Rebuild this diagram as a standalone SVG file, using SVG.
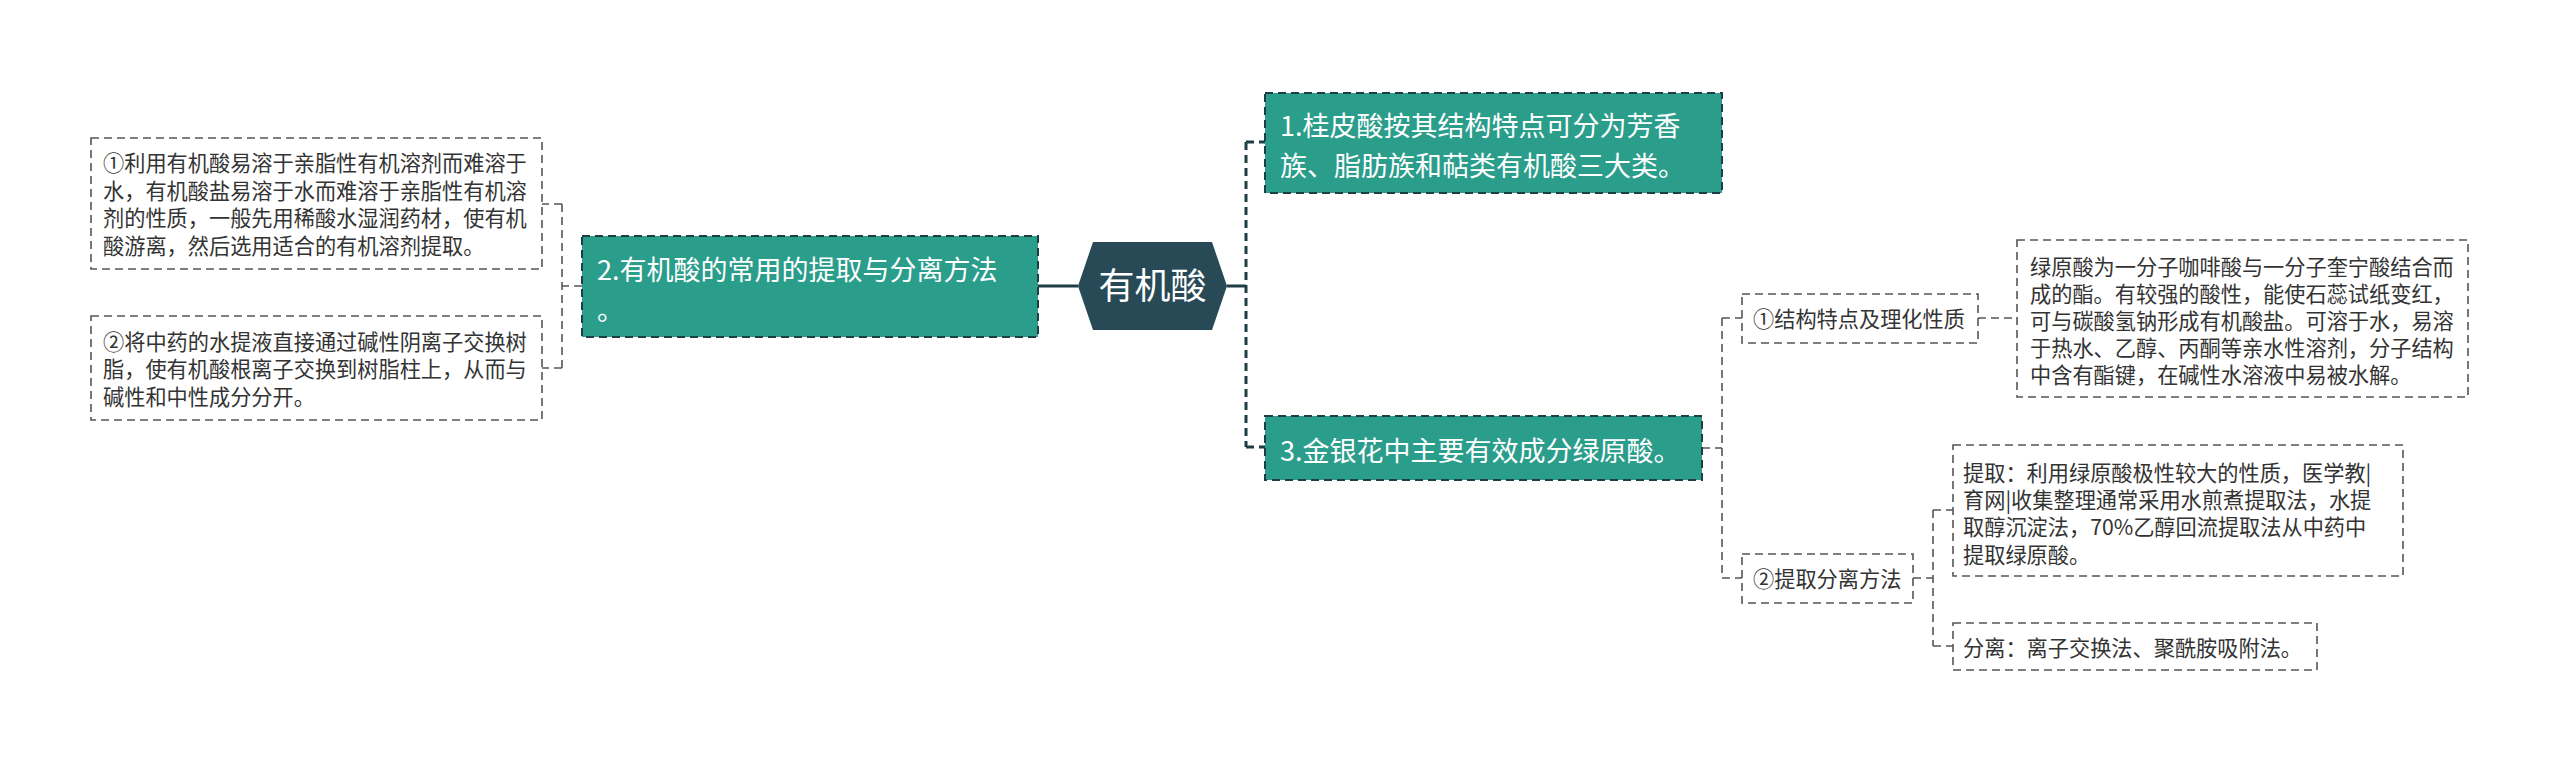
<svg xmlns="http://www.w3.org/2000/svg" width="2560" height="763" viewBox="0 0 2560 763">
<style>
.leaf{fill:#ffffff;stroke:#555555;stroke-width:1.6;stroke-dasharray:8 5}
.topic{fill:#2b9d8b;stroke:#1f3d44;stroke-width:2;stroke-dasharray:8 5}
.root{fill:#274a56}
.lt{font-family:"Noto Sans CJK SC","Noto Sans",sans-serif;font-size:21.2px;fill:#333333}
.tt{font-family:"Noto Sans CJK SC","Noto Sans",sans-serif;font-size:27px;fill:#ffffff}
.rt{font-family:"Noto Sans CJK SC","Noto Sans",sans-serif;font-size:36px;fill:#ffffff}
.c-gray{fill:none;stroke:#555555;stroke-width:1.6;stroke-dasharray:8 5}
.c-dark{fill:none;stroke:#1f3d44;stroke-width:3;stroke-dasharray:8 5}
.c-solid{fill:none;stroke:#1f3d44;stroke-width:3}
</style>
<rect width="2560" height="763" fill="#ffffff"/>
<g id="connectors">
<path class="c-solid" d="M1038 286 H1078"/>
<path class="c-solid" d="M1227 286 H1246"/>
<path class="c-dark" d="M1246 142 V447"/>
<path class="c-dark" d="M1246 142 H1265 M1246 447 H1265"/>
<path class="c-gray" d="M582 286 H562 M562 204 V368 M562 204 H542 M562 368 H542"/>
<path class="c-gray" d="M1702 448 H1722 M1722 318 V578 M1722 318 H1742 M1722 578 H1742"/>
<path class="c-gray" d="M1978 318 H2017"/>
<path class="c-gray" d="M1913 578 H1933 M1933 510 V646 M1933 510 H1953 M1933 646 H1953"/>
</g>
<g id="root">
<polygon class="root" points="1078,286 1093,242 1212,242 1227,286 1212,330 1093,330"/>
<text class="rt" x="1152.5" y="299" text-anchor="middle">有机酸</text>
</g>
<g id="topic1">
<rect class="topic" x="1265" y="93" width="457" height="100"/>
<text class="tt" x="1280" y="136">1.桂皮酸按其结构特点可分为芳香</text>
<text class="tt" x="1280" y="176">族、脂肪族和萜类有机酸三大类。</text>
</g>
<g id="topic2">
<rect class="topic" x="582" y="236" width="456" height="101"/>
<text class="tt" x="597" y="280">2.有机酸的常用的提取与分离方法</text>
<text class="tt" x="597" y="320">。</text>
</g>
<g id="topic3">
<rect class="topic" x="1265" y="416" width="437" height="64"/>
<text class="tt" x="1280" y="461">3.金银花中主要有效成分绿原酸。</text>
</g>
<g id="leaf2a">
<rect class="leaf" x="91" y="138" width="451" height="131"/>
<text class="lt" x="103" y="171">①利用有机酸易溶于亲脂性有机溶剂而难溶于</text>
<text class="lt" x="103" y="199">水，有机酸盐易溶于水而难溶于亲脂性有机溶</text>
<text class="lt" x="103" y="226">剂的性质，一般先用稀酸水湿润药材，使有机</text>
<text class="lt" x="103" y="254">酸游离，然后选用适合的有机溶剂提取。</text>
</g>
<g id="leaf2b">
<rect class="leaf" x="91" y="316" width="451" height="104"/>
<text class="lt" x="103" y="350">②将中药的水提液直接通过碱性阴离子交换树</text>
<text class="lt" x="103" y="377">脂，使有机酸根离子交换到树脂柱上，从而与</text>
<text class="lt" x="103" y="405">碱性和中性成分分开。</text>
</g>
<g id="sub3a">
<rect class="leaf" x="1742" y="294" width="236" height="49"/>
<text class="lt" x="1753" y="327">①结构特点及理化性质</text>
</g>
<g id="desc3a">
<rect class="leaf" x="2017" y="240" width="451" height="157"/>
<text class="lt" x="2030" y="275">绿原酸为一分子咖啡酸与一分子奎宁酸结合而</text>
<text class="lt" x="2030" y="302">成的酯。有较强的酸性，能使石蕊试纸变红，</text>
<text class="lt" x="2030" y="329">可与碳酸氢钠形成有机酸盐。可溶于水，易溶</text>
<text class="lt" x="2030" y="356">于热水、乙醇、丙酮等亲水性溶剂，分子结构</text>
<text class="lt" x="2030" y="383">中含有酯键，在碱性水溶液中易被水解。</text>
</g>
<g id="sub3b">
<rect class="leaf" x="1742" y="554" width="171" height="49"/>
<text class="lt" x="1753" y="587">②提取分离方法</text>
</g>
<g id="extract">
<rect class="leaf" x="1953" y="445" width="450" height="131"/>
<text class="lt" x="1963" y="481">提取：利用绿原酸极性较大的性质，医学教|</text>
<text class="lt" x="1963" y="508">育网|收集整理通常采用水煎煮提取法，水提</text>
<text class="lt" x="1963" y="535">取醇沉淀法，70%乙醇回流提取法从中药中</text>
<text class="lt" x="1963" y="563">提取绿原酸。</text>
</g>
<g id="separate">
<rect class="leaf" x="1953" y="623" width="364" height="47"/>
<text class="lt" x="1963" y="656">分离：离子交换法、聚酰胺吸附法。</text>
</g>
</svg>
